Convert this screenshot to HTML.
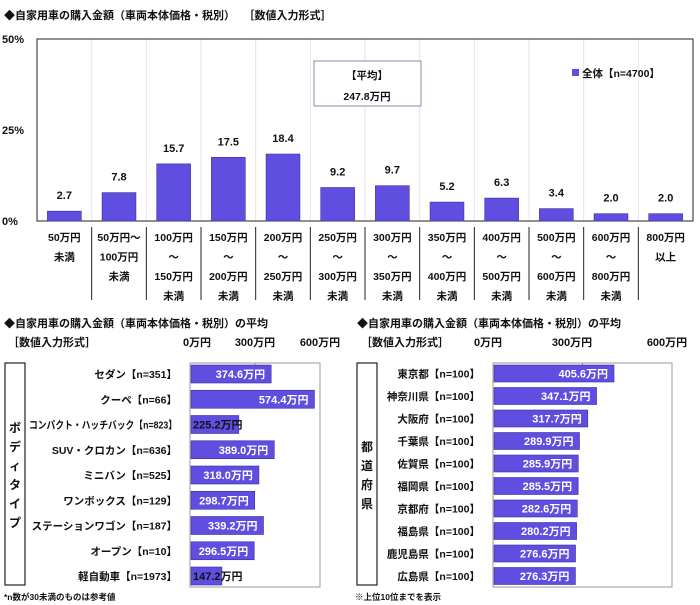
<!DOCTYPE html>
<html><head><meta charset="utf-8">
<style>
html,body{margin:0;padding:0;background:#fff;}
svg{display:block;font-family:"Liberation Sans","Noto Sans CJK JP",sans-serif;}
text{font-weight:bold;fill:#111;}
</style></head>
<body>
<svg id="chart" width="700" height="605" viewBox="0 0 700 605"></svg>
<script>
const topCats = [["50万円","未満"],["50万円～","100万円","未満"],["100万円","～","150万円","未満"],["150万円","～","200万円","未満"],["200万円","～","250万円","未満"],["250万円","～","300万円","未満"],["300万円","～","350万円","未満"],["350万円","～","400万円","未満"],["400万円","～","500万円","未満"],["500万円","～","600万円","未満"],["600万円","～","800万円","未満"],["800万円","以上"]];
const topVals = [2.7,7.8,15.7,17.5,18.4,9.2,9.7,5.2,6.3,3.4,2.0,2.0];
const topTicks = [0,25,50];
const bodyCats = ["セダン【n=351】","クーペ【n=66】","コンパクト・ハッチバック【n=823】","SUV・クロカン【n=636】","ミニバン【n=525】","ワンボックス【n=129】","ステーションワゴン【n=187】","オープン【n=10】","軽自動車【n=1973】"];
const bodyVals = [374.6,574.4,225.2,389.0,318.0,298.7,339.2,296.5,147.2];
const prefCats = ["東京都【n=100】","神奈川県【n=100】","大阪府【n=100】","千葉県【n=100】","佐賀県【n=100】","福岡県【n=100】","京都府【n=100】","福島県【n=100】","鹿児島県【n=100】","広島県【n=100】"];
const prefVals = [405.6,347.1,317.7,289.9,285.9,285.5,282.6,280.2,276.6,276.3];
const hTicks = [0,300,600];

const svg = document.getElementById('chart');
const NS = 'http://www.w3.org/2000/svg';
function el(tag, attrs, txt){const e=document.createElementNS(NS,tag);for(const k in attrs)e.setAttribute(k,attrs[k]);if(txt!==undefined)e.textContent=txt;svg.appendChild(e);return e;}
const BAR='#5f4ee0', EDGE='#3a2f9a';

let t;
t=el('text',{x:4,y:19,'font-size':11},'◆自家用車の購入金額（車両本体価格・税別）　 ［数値入力形式］');



const L=37,R=693,T=39,B=221;
const bw=(R-L)/topCats.length;
const ty=v=>B-(v/50)*(B-T);
for(let i=1;i<topCats.length;i++){
  const g=el('line',{x1:L+i*bw,x2:L+i*bw,y1:T,y2:B,stroke:'#e4e4e4','stroke-width':1});
  
  
  const s=el('line',{x1:L+i*bw,x2:L+i*bw,y1:227,y2:300,stroke:'#222','stroke-width':1});
  
  
}
let fr=el('rect',{x:L,y:T,width:R-L,height:B-T,fill:'none',stroke:'#222','stroke-width':1});


topTicks.forEach(v=>{
  const tx=el('text',{x:2,y:ty(v)+4,'font-size':11},v+'%');
  
  
});
topVals.forEach((v,i)=>{
  const x=L+i*bw+bw*0.19, w=bw*0.62;
  const r=el('rect',{x:x,y:ty(v),width:w,height:B-ty(v),fill:BAR,stroke:EDGE,'stroke-width':0.6});
  
  
  const lb=el('text',{x:L+i*bw+bw/2,y:ty(v)-12,'font-size':11,'text-anchor':'middle'},v.toFixed(1));
  
  
  topCats[i].forEach((line,j)=>{
    const c=el('text',{x:L+i*bw+bw/2,y:241+j*19.5,'font-size':10.5,'text-anchor':'middle'},line);
    
    
  });
});
let ab=el('rect',{x:314,y:61,width:107,height:45,fill:'#fff',stroke:'#8888aa','stroke-width':1});


t=el('text',{x:367,y:79,'font-size':10.5,'text-anchor':'middle'},'【平均】');


t=el('text',{x:367,y:100,'font-size':10.5,'text-anchor':'middle'},'247.8万円');


let lg=el('rect',{x:572,y:69,width:7,height:7,fill:BAR});


t=el('text',{x:582,y:77,'font-size':10.5},'全体【n=4700】');



function hchart(cfg){
  const {cats,vals,x0,x1,y0,y1,rowTop,rowStep,bh,title,titleX,bracketX,group,gx,labelX,labelMin,key,tickPos}=cfg;
  const sx=v=>x0+(v/600)*(x1-x0);
  let tt=el('text',{x:titleX,y:327,'font-size':11},title);
  
  
  tt=el('text',{x:bracketX,y:346,'font-size':11},'［数値入力形式］');
  
  
  hTicks.forEach((v,i)=>{
    const k=el('text',{x:tickPos[i],y:346,'font-size':11,'text-anchor':'middle'},v+'万円');
    
    
  });
  const f=el('rect',{x:x0,y:y0,width:x1-x0,height:y1-y0,fill:'none',stroke:'#999','stroke-width':1});
  
  
  const gl=el('line',{x1:sx(300),x2:sx(300),y1:y0,y2:y0+5,stroke:'#999'});
  
  
  const gb=el('rect',{x:gx,y:y0,width:20,height:y1-y0-2,fill:'#fff',stroke:'#222','stroke-width':1.2});
  
  
  const chars=[...group];
  const gy0=(y0+y1)/2-chars.length*19/2+14;
  chars.forEach((c,i)=>{
    const g=el('text',{x:gx+10,y:gy0+i*19,'font-size':12,'text-anchor':'middle'},c);
    
    
  });
  vals.forEach((v,i)=>{
    const cy=rowTop+i*rowStep;
    const r=el('rect',{x:x0+1,y:cy-bh/2,width:sx(v)-x0-1,height:bh,fill:BAR,stroke:EDGE,'stroke-width':0.6});
    
    
    const short=(sx(v)-x0)<60;
    const lb=el('text',{x:short?x0+3:sx(v)-6,y:cy+4,'font-size':11,'text-anchor':short?'start':'end',style:short?'fill:#111':'fill:#fff'},v.toFixed(1)+'万円');
    
    
    const c=el('text',{x:labelX,y:cy+4,'font-size':10.5,'text-anchor':'end'},cats[i]);
    
    
    const avail=labelX-labelMin;
    if(c.getComputedTextLength()>avail){
      c.setAttribute('textLength',avail);
      c.setAttribute('lengthAdjust','spacingAndGlyphs');
    }
  });
}
hchart({cats:bodyCats,vals:bodyVals,x0:190,x1:320,y0:363,y1:587,rowTop:374,rowStep:25.25,bh:18,
  title:'◆自家用車の購入金額（車両本体価格・税別）の平均',titleX:4,bracketX:8,group:'ボディタイプ',gx:5,labelX:177,labelMin:29,key:'body-type',tickPos:[197,255,320]});
hchart({cats:prefCats,vals:prefVals,x0:493,x1:672,y0:363,y1:587,rowTop:373.5,rowStep:22.5,bh:17,
  title:'◆自家用車の購入金額（車両本体価格・税別）の平均',titleX:357,bracketX:361,group:'都道府県',gx:357,labelX:480,labelMin:382,key:'prefecture',tickPos:[488,572,667]});

t=el('text',{x:4,y:600,'font-size':8.5},'*n数が30未満のものは参考値');


t=el('text',{x:355,y:600,'font-size':8.5},'※上位10位までを表示');


</script>
</body></html>
